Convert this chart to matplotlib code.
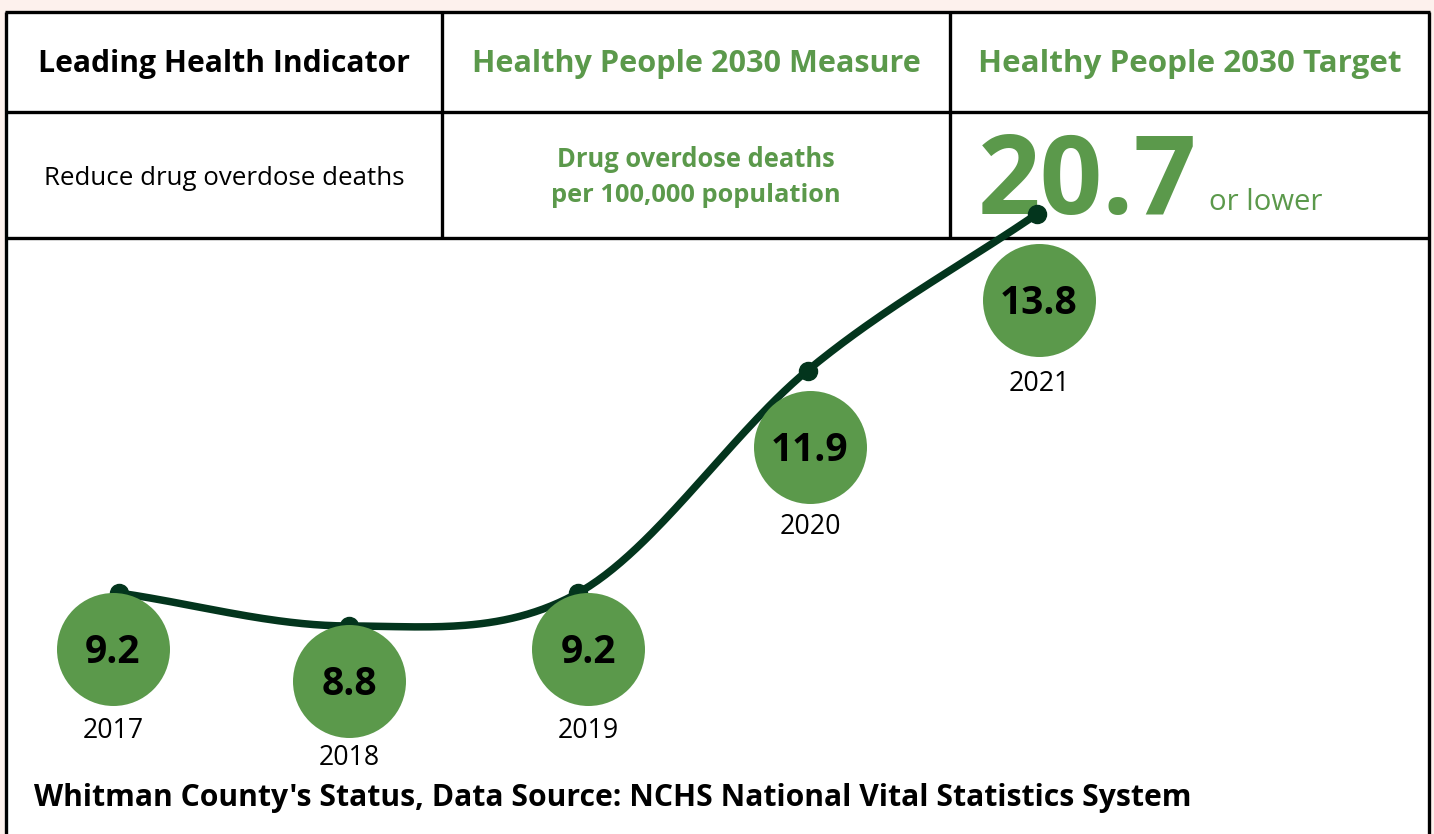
import numpy as np
import matplotlib
matplotlib.use("Agg")
import matplotlib.pyplot as plt
from matplotlib.transforms import ScaledTranslation

# ---- data ----
years = [2017, 2018, 2019, 2020, 2021]
values = [9.2, 8.8, 9.2, 11.9, 13.8]
value_labels = ["9.2", "8.8", "9.2", "11.9", "13.8"]
year_labels = ["2017", "2018", "2019", "2020", "2021"]
headers = ["Leading Health Indicator", "Healthy People 2030 Measure", "Healthy People 2030 Target"]
indicator = "Reduce drug overdose deaths"
measure = "Drug overdose deaths\nper 100,000 population"
target = "20.7"
target_suffix = "or lower"
footer = "Whitman County's Status, Data Source: NCHS National Vital Statistics System"

GREEN = "#5b994b"
DARK = "#03351d"
BG = "#fdf1ed"
BOLD_FONT = "Open Sans"
REG_FONT = "Open Sans"

W, H = 1434, 834
fig = plt.figure(figsize=(W / 100, H / 100), dpi=100)
fig.patch.set_facecolor(BG)
renderer = fig.canvas.get_renderer()


def fit(t, width_px):
    """scale a text's font size so its rendered width matches width_px"""
    bb = t.get_window_extent(renderer=renderer)
    t.set_fontsize(t.get_fontsize() * width_px / bb.width)
    return t


# pixel-space overlay for the table frame
ax0 = fig.add_axes([0, 0, 1, 1])
ax0.set_xlim(0, W)
ax0.set_ylim(H, 0)
ax0.axis("off")

ax0.add_patch(plt.Rectangle((6, 12), 1423, 900, facecolor="white", edgecolor="none", zorder=0))
lw = 2.4
ax0.plot([6, 6], [12, H + 5], color="black", lw=lw, zorder=1, solid_capstyle="butt")
ax0.plot([1429, 1429], [12, H + 5], color="black", lw=lw, zorder=1, solid_capstyle="butt")
for yy in [12, 112, 238]:
    ax0.plot([5, 1430], [yy, yy], color="black", lw=lw, zorder=1, solid_capstyle="butt")
for xx in [442, 950]:
    ax0.plot([xx, xx], [12, 238], color="black", lw=lw, zorder=1, solid_capstyle="butt")

col_centers = [224, 696, 1190]
hcolors = ["black", GREEN, GREEN]
hwidths = [372, 450, 424]
for cx, txt, c, wd in zip(col_centers, headers, hcolors, hwidths):
    t = ax0.text(cx, 72, txt, ha="center", va="baseline", fontsize=20, fontweight="bold",
                 color=c, family=BOLD_FONT, zorder=2)
    fit(t, wd)

fit(ax0.text(224, 185, indicator, ha="center", va="baseline", fontsize=16, color="black",
             family=REG_FONT, zorder=2), 361)
m1, m2 = measure.split("\n")
fit(ax0.text(696, 167, m1, ha="center", va="baseline", fontsize=15, fontweight="bold",
             color=GREEN, family=BOLD_FONT, zorder=2), 278)
fit(ax0.text(696, 202, m2, ha="center", va="baseline", fontsize=15, fontweight="bold",
             color=GREEN, family=BOLD_FONT, zorder=2), 290)
fit(ax0.text(978, 214, target, ha="left", va="baseline", fontsize=76, fontweight="bold",
             color=GREEN, family=BOLD_FONT, zorder=2), 219)
fit(ax0.text(1209, 210, target_suffix, ha="left", va="baseline", fontsize=20, color=GREEN,
             family=REG_FONT, zorder=2), 113)
fit(ax0.text(34, 806, footer, ha="left", va="baseline", fontsize=19.5, fontweight="bold",
             color="black", family=BOLD_FONT, zorder=2), 1156)

# data axes mapped so that the series sits at the right place
ax = fig.add_axes([0, 0, 1, 1])
ax.patch.set_alpha(0)
ax.axis("off")
px_per_year = 229.5
px_per_unit = 82.4
x0px, y0px = 119, 593
ax.set_xlim(years[0] - x0px / px_per_year, years[0] + (W - x0px) / px_per_year)
ax.set_ylim(values[0] - (H - y0px) / px_per_unit, values[0] + y0px / px_per_unit)

# Catmull-Rom smooth path through the points
xs = np.array(years, dtype=float)
ys = np.array(values, dtype=float)
n = len(xs)
m = np.zeros(n)
m[0] = ys[1] - ys[0]
m[-1] = ys[-1] - ys[-2]
for i in range(1, n - 1):
    m[i] = (ys[i + 1] - ys[i - 1]) / 2
cx_, cy_ = [], []
for i in range(n - 1):
    t = np.linspace(0, 1, 60)
    h00 = 2 * t**3 - 3 * t**2 + 1
    h10 = t**3 - 2 * t**2 + t
    h01 = -2 * t**3 + 3 * t**2
    h11 = t**3 - t**2
    cy_.append(h00 * ys[i] + h10 * m[i] + h01 * ys[i + 1] + h11 * m[i + 1])
    cx_.append(xs[i] + t * (xs[i + 1] - xs[i]))
cx_ = np.concatenate(cx_)
cy_ = np.concatenate(cy_)
ax.plot(cx_, cy_, color=DARK, lw=5.4, zorder=5, solid_capstyle="round")
ax.plot(xs, ys, "o", color=DARK, ms=13, zorder=5)

# bubbles (offset below each point, in pixels)
circle_dx = [-6, 0.5, 10, 2.5, 2]
circle_dy = [56, 55, 56, 76, 86]
year_dy = [80, 75, 80, 78, 82]
for i in range(n):
    dx, dy = circle_dx[i], circle_dy[i]
    tr = ax.transData + ScaledTranslation(dx / 100, -dy / 100, fig.dpi_scale_trans)
    ax.scatter([xs[i]], [ys[i]], s=(56.5 * 0.72 * 2) ** 2, color=GREEN, transform=tr,
               zorder=6, linewidths=0)
    trv = ax.transData + ScaledTranslation(dx / 100, -(dy + 14) / 100, fig.dpi_scale_trans)
    ax.text(xs[i], ys[i], value_labels[i], transform=trv, ha="center", va="baseline",
            fontsize=28, fontweight="bold", color="black", family=BOLD_FONT, zorder=7)
    tr2 = ax.transData + ScaledTranslation(dx / 100, -(dy + year_dy[i] + 9) / 100, fig.dpi_scale_trans)
    ty = ax.text(xs[i], ys[i], year_labels[i], transform=tr2, ha="center", va="baseline",
                 fontsize=17, color="black", family=REG_FONT, zorder=7)
    fit(ty, 61)

fig.savefig("out.png", dpi=100, facecolor=BG)
